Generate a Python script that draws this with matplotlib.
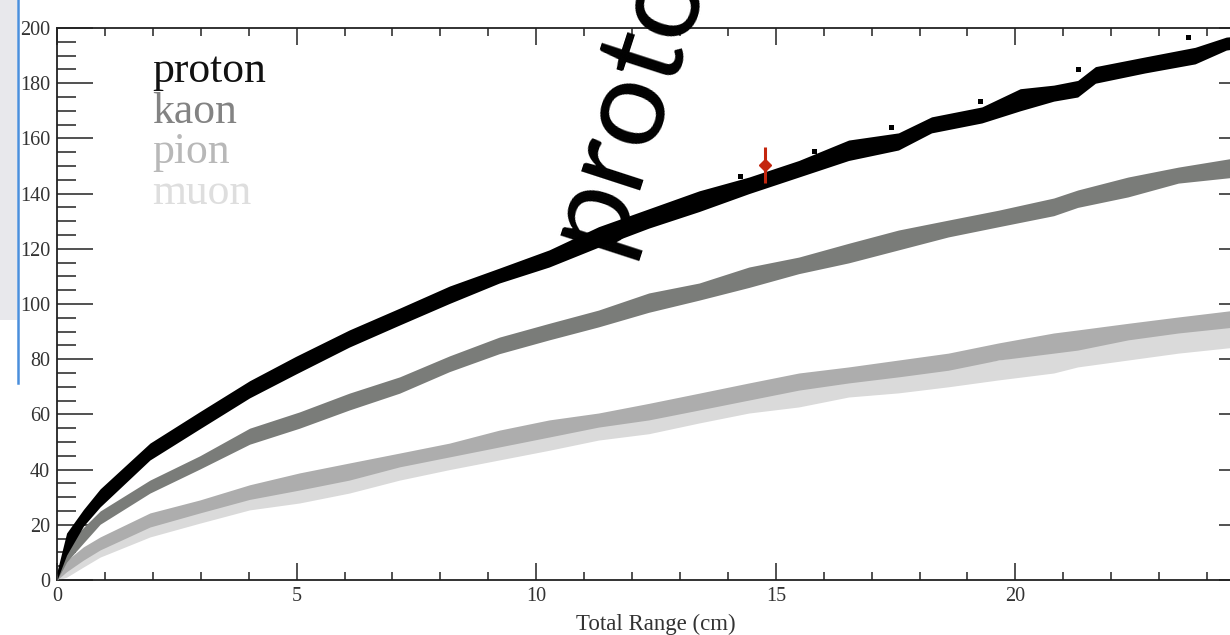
import matplotlib
matplotlib.use("Agg")
import matplotlib.pyplot as plt
from matplotlib.patches import Rectangle
from matplotlib.lines import Line2D
from matplotlib.ticker import MultipleLocator

# Range (cm) vs. kinetic energy bands: lower / upper band edges
proton_x = [0, 0.2, 0.55, 0.9, 1.94, 2.98, 4.02, 4.98, 6.1, 7.15, 8.19, 9.23, 10.27,
            11.3, 12.35, 13.4, 14.44, 15.48, 16.52, 17.56, 18.25, 19.3, 20.1, 20.8,
            21.3, 21.67, 22.7, 23.75, 24.4, 24.6]
proton_lo = [0, 9, 19.5, 26.5, 43.5, 54.8, 66, 74.6, 84.4, 92.4, 100.2, 107.6, 113.4,
             120.6, 127.5, 133.5, 140, 146, 152, 155.8, 162, 165.6, 170, 173.5,
             175, 180, 183.7, 187, 192, 192.5]
proton_hi = [3, 17, 25.5, 33, 49.6, 61, 72.2, 81, 90.6, 98.5, 106.5, 113, 119.6,
             128, 134.5, 141, 146, 152, 159.4, 162, 167.8, 171.4, 178, 179.3,
             181, 186, 189.5, 193, 196.7, 197]

lepton_x = [0, 0.2, 0.55, 0.9, 1.94, 2.98, 4.02, 5.06, 6.1, 7.15, 8.19, 9.23, 10.27,
            11.3, 12.35, 13.4, 14.44, 15.48, 16.52, 17.56, 18.6, 19.65, 20.8, 21.3,
            22.35, 23.4, 24.6]
kaon_lo = [0, 6.5, 13.4, 20.2, 31.5, 40.2, 49.2, 55, 61.6, 67.7, 75.5, 82, 87,
           91.7, 97, 101.4, 106, 111, 114.9, 119.6, 124.3, 128, 132, 135,
           138.8, 143.8, 146]
kaon_hi = [2, 12.5, 19, 25, 36.2, 45, 55, 60.9, 67.7, 73.6, 81.2, 88, 93,
           97.8, 104, 107.6, 113.4, 117, 122, 126.8, 130.4, 134, 138.4, 141.3,
           146, 149.6, 153]
pion_lo = [0, 3, 7.2, 10.9, 19.2, 24.3, 29.2, 32.6, 36.2, 41, 44.6, 48.2, 51.8,
           55.4, 58, 61.6, 65.2, 68.8, 71.4, 73.6, 76, 79.7, 82.2, 83.3,
           87, 89.5, 91.7]
pion_hi = [1.5, 7, 12, 15.6, 24.3, 29, 34.5, 38.8, 42.4, 46, 49.6, 54.3, 58,
           60.5, 64, 67.7, 71.4, 75, 77.2, 79.7, 82.2, 85.9, 89.5, 90.6,
           93, 95.3, 97.8]
muon_lo = [0, 1, 4.7, 8.3, 15.6, 20.6, 25.4, 27.9, 31.5, 36.2, 40, 43.5, 47,
           50.7, 53, 56.9, 60.5, 62.7, 66.3, 67.8, 70, 72.5, 75, 77.2,
           79.7, 82.2, 84.4]
muon_hi = [1, 5.8, 9.8, 13.6, 20.6, 25.4, 30.8, 33.7, 38.5, 42.4, 46, 49.6, 53,
           56.9, 59, 62.7, 66.3, 70, 72.5, 75, 77.2, 79.7, 83.3, 84.4,
           88, 90.6, 91.7]

# isolated proton entries above the band
stray_x = [14.25, 15.8, 17.4, 19.27, 21.3, 23.6]
stray_y = [146.4, 155.4, 164, 173.6, 185, 196.7]

# single measured track with uncertainties
track_x, track_y = 14.77, 150.5
track_xerr, track_yerr = 0.11, 6.5

particle_names = ["proton", "kaon", "pion", "muon"]
band_colors = ["#000000", "#7a7c79", "#adadad", "#dadada"]
label_colors = ["#111111", "#838383", "#b8b8b8", "#dedede"]

x_ticks = [0, 5, 10, 15, 20, 25]
x_ticklabels = ["0", "5", "10", "15", "20", ""]

W, H = 1230, 635
fig = plt.figure(figsize=(W / 100, H / 100), dpi=100)
fig.patch.set_facecolor("white")

# axes frame: x=0 at px 57, y=0 at px 580, 47.92 px per cm, 2.76 px per MeV
left, bottom = 57 / W, 1 - 580 / H
ax = fig.add_axes([left, bottom, 1198 / W, 552 / H])
ax.set_xlim(0, 25)
ax.set_ylim(0, 200)

serif = "Liberation Serif"

ax.fill_between(lepton_x, muon_lo, muon_hi, color=band_colors[3], lw=0, zorder=2)
ax.fill_between(lepton_x, pion_lo, pion_hi, color=band_colors[2], lw=0, zorder=3)
ax.fill_between(lepton_x, kaon_lo, kaon_hi, color=band_colors[1], lw=0, zorder=4)
ax.fill_between(proton_x, proton_lo, proton_hi, color=band_colors[0], lw=0, zorder=5)
ax.plot(stray_x, stray_y, ls="none", marker="s", ms=3.6, color="black", mew=0, zorder=5)

ax.errorbar([track_x], [track_y], xerr=[track_xerr], yerr=[track_yerr], fmt="D",
            ms=6, color="#c4260e", ecolor="#c4260e", elinewidth=2.2, capsize=0, zorder=6)

# axis styling
for s in ax.spines.values():
    s.set_linewidth(1.3)
    s.set_color("#222222")
ax.set_xticks(x_ticks, labels=x_ticklabels)
ax.xaxis.set_minor_locator(MultipleLocator(1))
ax.yaxis.set_major_locator(MultipleLocator(20))
ax.yaxis.set_minor_locator(MultipleLocator(5))
ax.tick_params(which="both", direction="in", top=True, right=True, color="#222222",
               width=1.1, labelcolor="#333333", labelsize=14.5)
ax.tick_params(axis="x", which="major", length=12, pad=5)
ax.tick_params(axis="x", which="minor", length=6)
ax.tick_params(axis="y", which="major", length=26, pad=5)
ax.tick_params(axis="y", which="minor", length=13.7)
for lab in ax.get_xticklabels() + ax.get_yticklabels():
    lab.set_fontfamily(serif)
ax.set_xlabel("Total Range (cm)", fontfamily=serif, fontsize=16.5, color="#333333",
              labelpad=6)

# species key
for i, (name, col) in enumerate(zip(particle_names, label_colors)):
    ax.text(0.0793, 0.902 - i * 0.0735, name, transform=ax.transAxes, fontfamily=serif,
            fontsize=31.5, color=col, ha="left", va="baseline", zorder=7)

# page decorations at the left edge
fig.add_artist(Rectangle((0, 1 - 320 / H), 16.5 / W, 320 / H, transform=fig.transFigure,
                         facecolor="#e8e8ec", edgecolor="none", zorder=10))
fig.add_artist(Line2D([17.8 / W, 17.8 / W], [1, 1 - 383 / H], transform=fig.transFigure,
                      color="#4a8fdc", lw=1.8, zorder=11))

# large rotated caption
fig.text(611 / W, 1 - 255 / H, "proton", rotation=72, rotation_mode="anchor",
         ha="left", va="baseline", fontfamily="Lato", fontsize=88, color="black",
         zorder=12)

fig.savefig("out.png", dpi=100)
